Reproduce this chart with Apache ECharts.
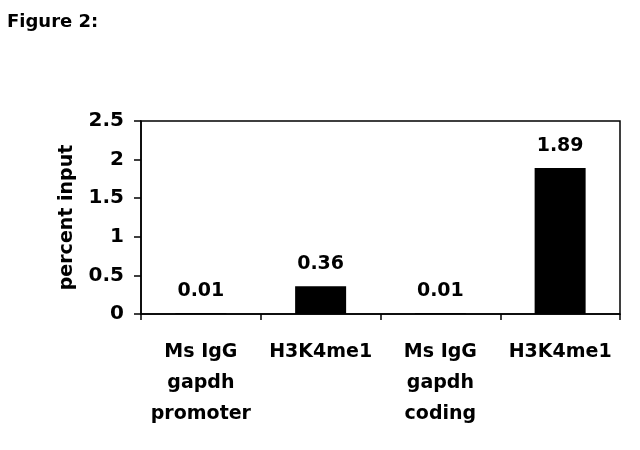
<!DOCTYPE html>
<html><head><meta charset="utf-8">
<script src="https://cdn.jsdelivr.net/npm/echarts@6/dist/echarts.min.js"></script>
<style>html,body{margin:0;padding:0;background:#fff}#c{width:640px;height:450px}</style>
</head><body><div id="c"></div>
<script>
const categories = ['Ms IgG\ngapdh\npromoter', 'H3K4me1', 'Ms IgG\ngapdh\ncoding', 'H3K4me1'];
const values = [0.01, 0.36, 0.01, 1.89];
const valueLabels = ['0.01', '0.36', '0.01', '1.89'];
const yTicks = [0, 0.5, 1, 1.5, 2, 2.5];
const FONT = 'DejaVu Sans';
const chart = echarts.init(document.getElementById('c'), null, {renderer: 'canvas'});
chart.setOption({
  animation: false,
  title: {text: 'Figure 2:', left: 2, top: 8, textStyle: {fontFamily: FONT, fontWeight: 'bold', fontSize: 18, color: '#000'}},
  grid: {left: 141, top: 121, right: 20, bottom: 136, show: true, borderColor: '#000', borderWidth: 1.5, backgroundColor: 'transparent'},
  xAxis: {
    type: 'category', data: categories,
    axisLine: {lineStyle: {color: '#000', width: 1.5}},
    axisTick: {show: true, alignWithLabel: false, length: 6, lineStyle: {color: '#000', width: 1.5}},
    axisLabel: {color: '#000', fontFamily: FONT, fontWeight: 'bold', fontSize: 19, lineHeight: 31, margin: 23, interval: 0}
  },
  yAxis: {
    type: 'value', min: yTicks[0], max: yTicks[yTicks.length - 1], interval: 0.5,
    name: 'percent input', nameLocation: 'middle', nameGap: 64,
    nameTextStyle: {color: '#000', fontFamily: FONT, fontWeight: 'bold', fontSize: 19},
    splitLine: {show: false},
    axisLine: {show: true, lineStyle: {color: '#000', width: 1.5}},
    axisTick: {show: true, length: 7, lineStyle: {color: '#000', width: 1.5}},
    axisLabel: {color: '#000', fontFamily: FONT, fontWeight: 'bold', fontSize: 20, margin: 17, formatter: v => String(v)}
  },
  series: [{
    type: 'bar', data: values, barWidth: 51,
    itemStyle: {color: '#000'},
    label: {show: true, position: 'top', distance: 13, color: '#000', fontFamily: FONT, fontWeight: 'bold', fontSize: 19,
      formatter: p => valueLabels[p.dataIndex]}
  }]
});
</script></body></html>
